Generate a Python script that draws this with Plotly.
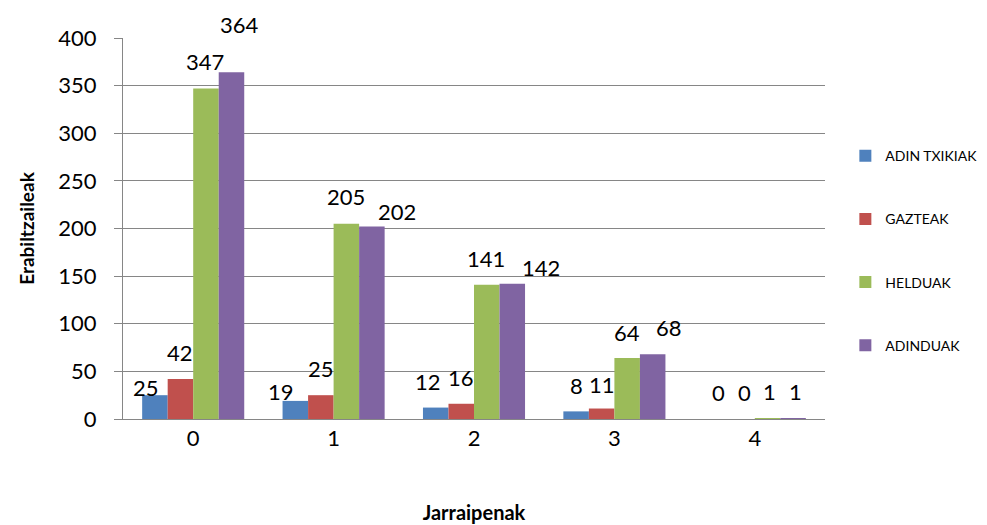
import plotly.graph_objects as go

categories = ["0", "1", "2", "3", "4"]
series_names = ["ADIN TXIKIAK", "GAZTEAK", "HELDUAK", "ADINDUAK"]
adin_txikiak = [25, 19, 12, 8, 0]
gazteak = [42, 25, 16, 11, 0]
helduak = [347, 205, 141, 64, 1]
adinduak = [364, 202, 142, 68, 1]
y_ticks = [0, 50, 100, 150, 200, 250, 300, 350, 400]

series_values = [adin_txikiak, gazteak, helduak, adinduak]
colors = ["#4F81BD", "#C0504D", "#9BBB59", "#8064A2"]

# label nudges in pixels (style only), per series per category
label_dx = [[-9, -14, -8, 0, 2], [0, 0, 0, 0, 2], [-1, 0, -1, 0, 2], [8, 25, 29, 16, 2]]
label_dy = [[-8, -9, -26, -26, -27], [-27, -27, -26, -24, -27],
            [-27, -27, -26, -26, -27], [-48, -15, -16, -27, -27]]

FONT = "Lato"
bargap = 0.273
n = len(series_names)
barw = (1 - bargap) / n

fig = go.Figure()
for i, (name, vals, col) in enumerate(zip(series_names, series_values, colors)):
    fig.add_trace(go.Bar(
        x=categories, y=vals, name=name, marker_color=col,
        marker_line_width=0, legendgroup=name,
    ))

annotations = []
for i, vals in enumerate(series_values):
    for j, v in enumerate(vals):
        annotations.append(dict(
            x=j + (i - (n - 1) / 2) * barw, y=v, xref="x", yref="y",
            text=str(v), showarrow=False, xanchor="center", yanchor="middle",
            xshift=label_dx[i][j], yshift=-label_dy[i][j],
            font=dict(family=FONT, size=22, color="#000000"),
        ))

# page body adds an 8px margin, so the figure is 8px smaller on each axis
fig.update_layout(
    width=979, height=517,
    margin=dict(l=115, r=162, t=30, b=106, autoexpand=False),
    paper_bgcolor="white", plot_bgcolor="white",
    barmode="group", bargap=bargap, bargroupgap=0,
    font=dict(family=FONT, size=22, color="#000000"),
    showlegend=True,
    legend=dict(
        x=1.029, y=0.732, xanchor="left", yanchor="top",
        font=dict(family=FONT, size=14, color="#000000"),
        tracegroupgap=42, itemwidth=30,
    ),
    annotations=annotations,
    xaxis=dict(
        type="category", showgrid=False, showline=True, linecolor="#868686",
        linewidth=1, ticks="", tickfont=dict(size=22),
        title=dict(text="<b>Jarraipenak</b>", font=dict(size=20), standoff=55),
    ),
    yaxis=dict(
        range=[0, 400], tickvals=y_ticks, showgrid=True, gridcolor="#868686",
        gridwidth=1, showline=True, linecolor="#868686", linewidth=1,
        ticks="outside", ticklen=8, tickcolor="#868686", zeroline=False,
        tickfont=dict(size=22), ticklabelstandoff=13,
        title=dict(text="<b>Erabiltzaileak</b>", font=dict(size=19), standoff=18),
    ),
)

fig.write_html("out.html")
